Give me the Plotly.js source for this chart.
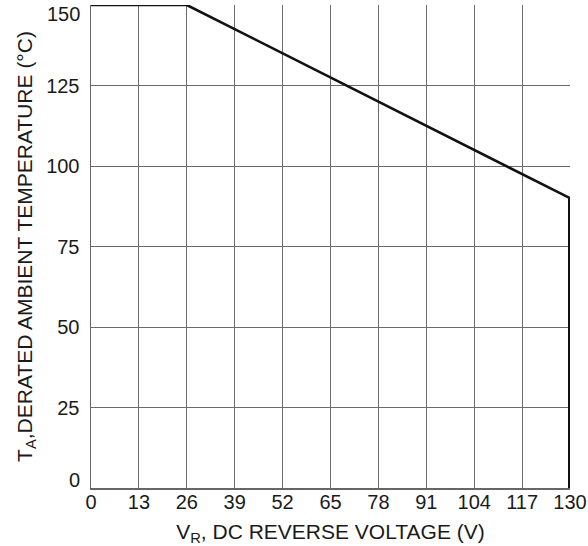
<!DOCTYPE html>
<html>
<head>
<meta charset="utf-8">
<script src="https://cdn.plot.ly/plotly-3.0.1.min.js"></script>
<style>html,body{margin:0;padding:0;background:#fff;}#chart{width:588px;height:546px;}</style>
</head>
<body>
<div id="chart"></div>
<script>
// Derating curve: ambient temperature vs DC reverse voltage
const curveVoltage = [0, 26, 130];
const curveTemp = [150, 150, 90];
const cutoffVoltage = [130, 130];
const cutoffTemp = [90, 0];

const xTickVals = [0, 13, 26, 39, 52, 65, 78, 91, 104, 117, 130];
const yTickVals = [25, 50, 75, 100, 125];
const yEdgeTicks = [0, 150];
const yEdgeShift = [8, -9];
const xGridVals = [13, 26, 39, 52, 65, 78, 91, 104, 117];
const yGridVals = [25, 50, 75, 100, 125];

const xRange = [0, 130];
const yRange = [0, 150];

const tickFont = {family: 'Liberation Sans, Arial, sans-serif', size: 20, color: '#1a1a1a'};
const titleFont = {family: 'Liberation Sans, Arial, sans-serif', size: 21, color: '#1a1a1a'};
const gridColor = '#6a6a6a';
const axisColor = '#666666';

const traces = [
  {x: curveVoltage, y: curveTemp, type: 'scatter', mode: 'lines',
   line: {color: '#111', width: 2.6}, cliponaxis: false, hoverinfo: 'skip'},
  {x: cutoffVoltage, y: cutoffTemp, type: 'scatter', mode: 'lines',
   line: {color: '#111', width: 4}, cliponaxis: false, hoverinfo: 'skip'},
  // invisible trace to activate grid axes
  {x: xRange, y: yRange, xaxis: 'x2', yaxis: 'y2', type: 'scatter', mode: 'none', hoverinfo: 'skip'}
];

const layout = {
  width: 588, height: 546,
  margin: {l: 91, r: 18, t: 5, b: 58},
  paper_bgcolor: '#fff', plot_bgcolor: '#fff',
  showlegend: false,
  font: tickFont,
  xaxis: {
    range: xRange, tickvals: xTickVals, ticktext: xTickVals.map(String),
    showgrid: false, zeroline: false, showline: true, linecolor: axisColor, linewidth: 1.5,
    ticks: '', ticklabelstandoff: -5, tickfont: tickFont,
    title: {text: 'V<sub>R</sub>, DC REVERSE VOLTAGE (V)', font: titleFont, standoff: 15}
  },
  yaxis: {
    range: yRange, tickvals: yTickVals, ticktext: yTickVals.map(String),
    showgrid: false, zeroline: false, showline: true, linecolor: axisColor, linewidth: 1.5,
    ticks: 'outside', ticklen: 6, tickcolor: 'rgba(0,0,0,0)',
    tickfont: tickFont,
    title: {text: 'T<sub>A</sub>,DERATED AMBIENT TEMPERATURE (°C)', font: titleFont, standoff: 8}
  },
  xaxis2: {
    overlaying: 'x', range: xRange, tickvals: xGridVals, showticklabels: false,
    showgrid: true, gridcolor: gridColor, gridwidth: 1, zeroline: false, showline: false, ticks: ''
  },
  yaxis2: {
    overlaying: 'y', range: yRange, tickvals: yGridVals, showticklabels: false,
    showgrid: true, gridcolor: gridColor, gridwidth: 1, zeroline: false, showline: false, ticks: ''
  },
  annotations: yEdgeTicks.map((v, i) => ({
    x: 0, xref: 'paper', y: v, yref: 'y', text: String(v),
    showarrow: false, xanchor: 'right', yanchor: 'middle', xshift: -9, yshift: yEdgeShift[i],
    font: tickFont
  }))
};

Plotly.newPlot('chart', traces, layout, {staticPlot: true, displayModeBar: false});
</script>
</body>
</html>
